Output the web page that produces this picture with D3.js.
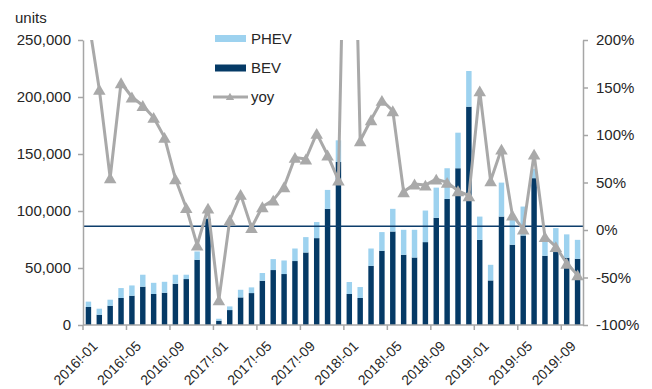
<!DOCTYPE html>
<html>
<head>
<meta charset="utf-8">
<script src="https://cdn.jsdelivr.net/npm/d3@7/dist/d3.min.js"></script>
<style>
  body { margin: 0; background: #fff; }
  text { font-family: "Liberation Sans", Arial, sans-serif; fill: #262626; }
</style>
</head>
<body>
<svg id="chart" width="652" height="389"></svg>
<script>
// Monthly categories (as printed on the axis)
const months = [
  "2016!-01","2016!-02","2016!-03","2016!-04","2016!-05","2016!-06","2016!-07","2016!-08","2016!-09","2016!-10","2016!-11","2016!-12",
  "2017!-01","2017!-02","2017!-03","2017!-04","2017!-05","2017!-06","2017!-07","2017!-08","2017!-09","2017!-10","2017!-11","2017!-12",
  "2018!-01","2018!-02","2018!-03","2018!-04","2018!-05","2018!-06","2018!-07","2018!-08","2018!-09","2018!-10","2018!-11","2018!-12",
  "2019!-01","2019!-02","2019!-03","2019!-04","2019!-05","2019!-06","2019!-07","2019!-08","2019!-09","2019!-10"
];

// Battery electric vehicles, units
const bev = [
  15800, 9000, 16900, 23700, 25700, 33600, 27200, 28300, 36200, 40300, 57200, 93000,
  3800, 13100, 24200, 28000, 38800, 48200, 44700, 56100, 63600, 76200, 101900, 143000,
  27200, 23700, 51900, 65100, 82000, 61600, 59200, 72700, 94000, 110600, 137500, 191500,
  74700, 39100, 95100, 70400, 78500, 128800, 60700, 64000, 59000, 58100
];

// Plug-in hybrids, units (stacked on top of BEV)
const phev = [
  4700, 5300, 5300, 8700, 9000, 10500, 9800, 9600, 7900, 3800, 7300, 1000,
  1700, 3200, 6700, 5000, 6800, 9600, 11900, 11000, 13500, 14100, 16600, 19000,
  10500, 9600, 15200, 16400, 19900, 21900, 24300, 27700, 26500, 26900, 31200, 31300,
  20400, 13700, 29800, 21900, 25400, 8200, 15800, 21000, 20500, 16600
];

// Year-on-year growth of total units (fraction), right axis
const yoy = [
  2.22, 1.48, 0.55, 1.55, 1.40, 1.31, 1.185, 0.975, 0.54, 0.235, -0.158, 0.23,
  -0.736, 0.105, 0.375, 0.025, 0.245, 0.315, 0.455, 0.764, 0.747, 1.017, 0.789, 0.526,
  5.80, 0.94, 1.16, 1.365, 1.255, 0.403, 0.484, 0.473, 0.536, 0.501, 0.413, 0.361,
  1.465, 0.518, 0.852, 0.158, 0.01, 0.799, -0.07, -0.175, -0.35, -0.473
];

const leftTicks = [0, 50000, 100000, 150000, 200000, 250000];
const rightTicks = [-1, -0.5, 0, 0.5, 1, 1.5, 2];
const labelMonths = ["2016!-01","2016!-05","2016!-09","2017!-01","2017!-05","2017!-09",
                     "2018!-01","2018!-05","2018!-09","2019!-01","2019!-05","2019!-09"];
const refLevel = 0.04;

const colors = { phev: "#9dd2ef", bev: "#053a66", yoy: "#a9a9a9", axis: "#a6a6a6", ref: "#0d3d6b" };

const svg = d3.select("#chart");
const plot = { left: 83, right: 583, top: 40, bottom: 325 };

const x = d3.scaleBand().domain(months).range([plot.left, plot.right])
  .paddingInner(0.5).paddingOuter(0.25);
const yL = d3.scaleLinear().domain([0, 250000]).range([plot.bottom, plot.top]);
const yR = d3.scaleLinear().domain([-1, 2]).range([plot.bottom, plot.top]);

svg.append("defs").append("clipPath").attr("id", "plotClip")
  .append("rect").attr("x", plot.left).attr("y", plot.top)
  .attr("width", plot.right - plot.left).attr("height", plot.bottom - plot.top);

// Stacked bars
const bars = svg.append("g");
bars.selectAll("rect.bev").data(months).join("rect").attr("class", "bev")
  .attr("x", d => x(d)).attr("width", x.bandwidth())
  .attr("y", (d, i) => yL(bev[i]))
  .attr("height", (d, i) => yL(0) - yL(bev[i]))
  .attr("fill", colors.bev);
bars.selectAll("rect.phev").data(months).join("rect").attr("class", "phev")
  .attr("x", d => x(d)).attr("width", x.bandwidth())
  .attr("y", (d, i) => yL(bev[i] + phev[i]))
  .attr("height", (d, i) => yL(bev[i]) - yL(bev[i] + phev[i]))
  .attr("fill", colors.phev);

// Horizontal reference line
svg.append("line")
  .attr("x1", plot.left).attr("x2", plot.right)
  .attr("y1", yR(refLevel)).attr("y2", yR(refLevel))
  .attr("stroke", colors.ref).attr("stroke-width", 1.5);

// Left axis
const axL = svg.append("g").attr("transform", `translate(${plot.left},0)`)
  .call(d3.axisLeft(yL).tickValues(leftTicks).tickFormat(d3.format(",")).tickSize(5).tickSizeOuter(0).tickPadding(7));
// Right axis
const axR = svg.append("g").attr("transform", `translate(${plot.right},0)`)
  .call(d3.axisRight(yR).tickValues(rightTicks).tickFormat(d => Math.round(d * 100) + "%").tickSize(5).tickSizeOuter(0).tickPadding(8));
// Bottom axis: ticks at the left edge of each labelled month
const half = x.step() / 2;
const axB = svg.append("g").attr("transform", `translate(${-half},${plot.bottom})`)
  .call(d3.axisBottom(x).tickValues(labelMonths).tickSize(5).tickSizeOuter(0).tickFormat(""));
axB.select(".domain").remove();
svg.append("line").attr("x1", plot.left).attr("x2", plot.right)
  .attr("y1", plot.bottom).attr("y2", plot.bottom)
  .attr("stroke", colors.axis).attr("stroke-width", 1.5);

[axL, axR, axB].forEach(a => {
  a.selectAll(".domain").attr("stroke", colors.axis).attr("stroke-width", 1.5);
  a.selectAll(".tick line").attr("stroke", colors.axis).attr("stroke-width", 1.5);
  a.selectAll("text").attr("font-size", "15px").attr("fill", "#262626")
    .attr("font-family", '"Liberation Sans", Arial, sans-serif');
});

// Rotated month labels
svg.append("g").selectAll("text").data(labelMonths).join("text")
  .attr("text-anchor", "end")
  .attr("font-size", "14px")
  .attr("transform", d => `translate(${x(d) - (x.step() - x.bandwidth()) / 2 + 15.5},${plot.bottom + 22}) rotate(-45)`)
  .text(d => d);

// yoy line with triangle markers
const cx = i => x(months[i]) + x.bandwidth() / 2;
const lineG = svg.append("g").attr("clip-path", "url(#plotClip)");
lineG.append("path").datum(yoy)
  .attr("d", d3.line().x((d, i) => cx(i)).y(d => yR(d)))
  .attr("fill", "none").attr("stroke", colors.yoy).attr("stroke-width", 3)
  .attr("stroke-linejoin", "round");
const triSize = 68;
const tri = d3.symbol(d3.symbolTriangle, triSize);
const triOff = Math.sqrt(triSize / (Math.sqrt(3) * 3)) / 2;
lineG.selectAll("path.mk").data(yoy).join("path").attr("class", "mk")
  .attr("d", tri)
  .attr("transform", (d, i) => `translate(${cx(i)},${yR(d) + triOff})`)
  .attr("fill", colors.yoy);

// Unit label
svg.append("text").attr("x", 15).attr("y", 23).attr("font-size", "15px").text("units");

// Legend
const lg = svg.append("g");
lg.append("rect").attr("x", 215).attr("y", 35).attr("width", 31).attr("height", 7).attr("fill", colors.phev);
lg.append("text").attr("x", 251).attr("y", 43.5).attr("font-size", "15px").text("PHEV");
lg.append("rect").attr("x", 215).attr("y", 64.5).attr("width", 31).attr("height", 7).attr("fill", colors.bev);
lg.append("text").attr("x", 251).attr("y", 72.7).attr("font-size", "15px").text("BEV");
lg.append("line").attr("x1", 213).attr("x2", 248).attr("y1", 97).attr("y2", 97)
  .attr("stroke", colors.yoy).attr("stroke-width", 3);
lg.append("path").attr("d", d3.symbol(d3.symbolTriangle, 30))
  .attr("transform", "translate(230,97.5)").attr("fill", colors.yoy);
lg.append("text").attr("x", 251).attr("y", 101.5).attr("font-size", "15px").text("yoy");
</script>
</body>
</html>
